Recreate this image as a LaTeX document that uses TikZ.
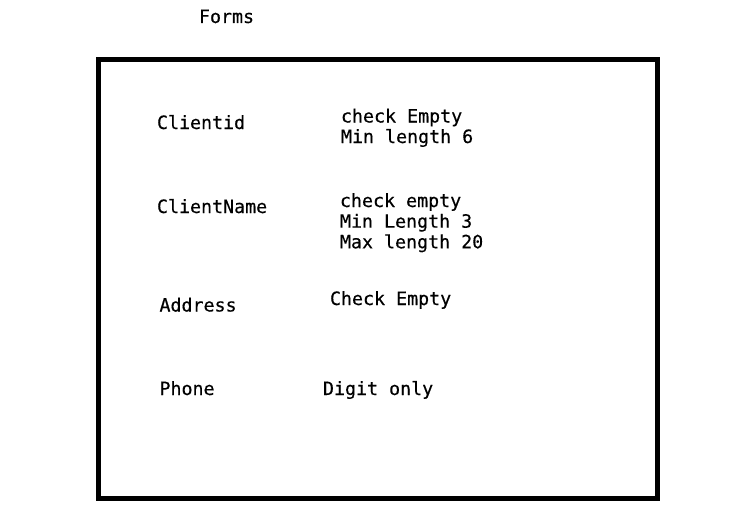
\documentclass[tikz,border=0pt]{standalone}
\usepackage{fontspec}
\newfontfamily\formmono[FakeBold=0.4]{DejaVu Sans Mono}
\begin{document}
\begin{tikzpicture}[x=1pt,y=-1pt,
  lbl/.style={anchor=base west,inner sep=0pt,outer sep=0pt,
    font=\formmono\fontsize{18.3}{20.5}\selectfont},
  frame/.style={draw=black,line width=5pt}]
\useasboundingbox (0,0) rectangle (740,530);
\node[frame,inner sep=0pt,outer sep=0pt,minimum width=559pt,minimum height=439pt,anchor=north west] (box) at (98.5,59) {};
\node[lbl] (title) at (199,23) {Forms};
\node[lbl] (f1) at (157,129) {Clientid};
\node[lbl] (r1a) at (341,122.5) {check Empty};
\node[lbl] (r1b) at (341,143) {Min length 6};
\node[lbl] (f2) at (157,213) {ClientName};
\node[lbl] (r2a) at (340,207) {check empty};
\node[lbl] (r2b) at (340,227.7) {Min Length 3};
\node[lbl] (r2c) at (340,248.3) {Max length 20};
\node[lbl] (f3) at (159.5,311.5) {Address};
\node[lbl] (r3) at (330,305) {Check Empty};
\node[lbl] (f4) at (159.5,395) {Phone};
\node[lbl] (r4) at (323,395) {Digit only};
\end{tikzpicture}
\end{document}
